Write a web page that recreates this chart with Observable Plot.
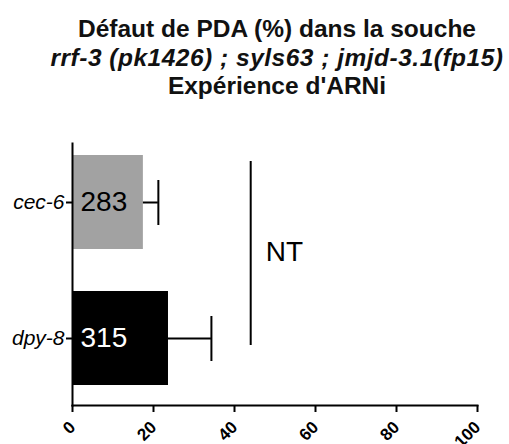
<!DOCTYPE html>
<html>
<head>
<meta charset="utf-8">
<script src="https://cdn.jsdelivr.net/npm/d3@7"></script>
<script src="https://cdn.jsdelivr.net/npm/@observablehq/plot@0.6"></script>
<style>
  html, body { margin: 0; padding: 0; background: #fff; }
  body { width: 509px; height: 444px; overflow: hidden; position: relative; font-family: "Liberation Sans", Arial, sans-serif; }
  #title { position: absolute; left: 277px; top: 15px; transform: translateX(-50%); white-space: nowrap; text-align: center; font-weight: bold; font-size: 24.5px; line-height: 28.5px; color: #111; }
  #title .it { font-style: italic; letter-spacing: 0.5px; }
  #chart { position: absolute; left: 0; top: 120px; }
</style>
</head>
<body>
<div id="title">
  <div>Défaut de PDA (%) dans la souche</div>
  <div class="it">rrf-3 (pk1426) ; syls63 ; jmjd-3.1(fp15)</div>
  <div>Expérience d'ARNi</div>
</div>
<div id="chart"></div>
<script>
const categories = ["cec-6", "dpy-8"];
const means = [17.5, 23.7];
const errors = [3.7, 10.6];
const counts = [283, 315];
const barColors = ["#a2a2a2", "#000000"];
const countColors = ["#000000", "#ffffff"];
const xTicks = [0, 20, 40, 60, 80, 100];
const ntX = [44];
const ntLabel = "NT";

const rows = categories.map((c, i) => ({cat: c, mean: means[i], hi: means[i] + errors[i], n: counts[i]}));

const font = "'Liberation Sans', Arial, sans-serif";

const plot = Plot.plot({
  width: 509,
  height: 324,
  marginLeft: 72,
  marginRight: 32,
  marginTop: 23,
  marginBottom: 39,
  style: {fontFamily: font, background: "#fff", color: "#000", overflow: "visible"},
  x: {domain: [0, 100]},
  y: {domain: categories, paddingInner: 0.31, paddingOuter: 0.118, align: 0.375},
  color: {domain: categories, range: barColors},
  marks: [
    Plot.barX(rows, {x: "mean", y: "cat", fill: "cat"}),
    Plot.ruleY(rows, {x1: "mean", x2: "hi", y: "cat", stroke: "#000", strokeWidth: 2}),
    Plot.tickX(rows, {x: "hi", y: "cat", stroke: "#000", strokeWidth: 2, insetTop: 25, insetBottom: 24}),
    ...rows.map((r, i) => Plot.text([r], {x: 0, y: "cat", text: d => String(d.n), fill: countColors[i], textAnchor: "start", dx: 8, fontSize: 28})),
    Plot.ruleX(ntX, {x: d => d, stroke: "#000", strokeWidth: 2, insetTop: 18, insetBottom: 60}),
    Plot.text(ntX, {x: d => d, text: () => ntLabel, frameAnchor: "middle", textAnchor: "start", dx: 15, dy: -22, fontSize: 28, fill: "#000"}),
    Plot.frame({anchor: "left", stroke: "#000", strokeWidth: 2}),
    Plot.frame({anchor: "bottom", stroke: "#000", strokeWidth: 2}),
    Plot.axisY({tickSize: 6, tickPadding: 2, fontSize: 21, fontStyle: "italic", strokeWidth: 2, label: null}),
    Plot.axisX({ticks: xTicks, tickSize: 7, tickPadding: 12, tickRotate: -45, fontSize: 17, fontWeight: "bold", strokeWidth: 2, label: null})
  ]
});
document.getElementById("chart").appendChild(plot);
</script>
</body>
</html>
